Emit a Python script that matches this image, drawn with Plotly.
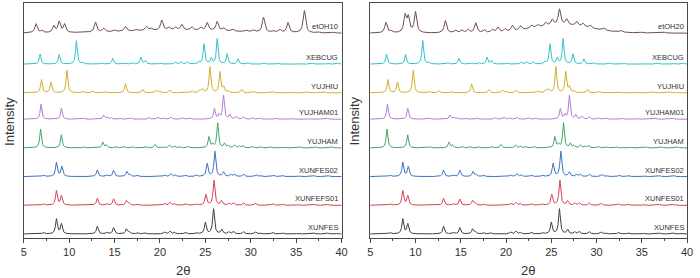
import numpy as np
import plotly.graph_objects as go
from plotly.subplots import make_subplots

# ---- data: peak tables (2theta, relative height) ----
names = ["XUNFES", "XUNFEFS01", "XUNFES02", "YUJHAM", "YUJHAM01", "YUJHIU", "XEBCUG"]
names_right = ["XUNFES", "XUNFES01", "XUNFES02", "YUJHAM", "YUJHAM01", "YUJHIU", "XEBCUG"]
top_left_name = "etOH10"
top_right_name = "etOH20"
offsets = [0, 1, 2, 3, 4, 4.92, 5.92, 7.0]
colors = ["#3f3f3f", "#d9414f", "#3c6fc2", "#3fa46c", "#b27ad6", "#d2ad2e", "#2ec3c6", "#6e4c54"]

xunfes_pos = [7.2, 8.6, 9.15, 13.1, 14.2, 14.9, 16.3, 16.6, 17.5, 18.3, 20.5, 21.1, 21.6, 22.8, 24.0, 25.0, 25.9, 26.8, 27.6, 28.1, 29.2, 30.5, 31.0, 32.4, 33.5, 35.2, 37.0, 38.5, 39.3]
xunfes_h = [0.05, 0.52, 0.35, 0.27, 0.05, 0.22, 0.17, 0.07, 0.05, 0.04, 0.07, 0.1, 0.05, 0.06, 0.05, 0.4, 0.87, 0.15, 0.07, 0.08, 0.08, 0.07, 0.04, 0.06, 0.04, 0.03, 0.03, 0.03, 0.03]
xunfefs01_pos = [7.2, 8.6, 9.15, 13.1, 14.2, 14.9, 16.3, 16.6, 17.5, 20.5, 21.1, 21.6, 22.8, 24.0, 25.05, 25.95, 26.8, 27.6, 28.1, 29.2, 30.5, 32.4, 33.5, 35.2, 37.0, 38.5]
xunfefs01_h = [0.05, 0.5, 0.33, 0.24, 0.05, 0.22, 0.16, 0.07, 0.05, 0.07, 0.1, 0.05, 0.06, 0.05, 0.37, 0.87, 0.15, 0.07, 0.08, 0.08, 0.07, 0.06, 0.04, 0.03, 0.03, 0.03]
xunfes02_pos = [7.2, 8.6, 9.2, 13.1, 14.2, 14.9, 16.35, 16.7, 17.5, 20.5, 21.2, 21.7, 22.8, 24.0, 25.2, 26.05, 27.0, 27.8, 28.2, 29.2, 30.6, 31.1, 32.5, 33.5, 35.3, 37.0, 38.6]
xunfes02_h = [0.05, 0.49, 0.34, 0.23, 0.05, 0.22, 0.17, 0.07, 0.05, 0.06, 0.1, 0.05, 0.05, 0.05, 0.45, 0.88, 0.15, 0.07, 0.08, 0.08, 0.07, 0.04, 0.05, 0.04, 0.03, 0.03, 0.03]
yujham_pos = [6.85, 9.13, 11.6, 13.7, 14.1, 15.2, 16.0, 17.0, 18.4, 19.45, 20.3, 21.05, 21.6, 22.2, 23.1, 25.4, 25.8, 26.35, 27.1, 27.5, 28.2, 28.7, 29.1, 30.2, 31.1, 32.2, 33.8, 35.5, 37.2, 39.0]
yujham_h = [0.66, 0.46, 0.04, 0.2, 0.1, 0.04, 0.05, 0.04, 0.05, 0.12, 0.04, 0.1, 0.06, 0.04, 0.05, 0.38, 0.12, 0.87, 0.15, 0.08, 0.1, 0.06, 0.08, 0.05, 0.04, 0.04, 0.03, 0.03, 0.03, 0.03]
yujham01_pos = [6.9, 9.15, 11.6, 13.8, 14.2, 14.6, 15.6, 16.8, 18.8, 19.75, 20.4, 21.2, 22.5, 23.3, 26.0, 26.5, 27.0, 27.7, 28.4, 29.2, 30.2, 31.0, 32.8, 34.5, 36.5, 38.5]
yujham01_h = [0.52, 0.38, 0.03, 0.14, 0.07, 0.05, 0.04, 0.04, 0.06, 0.08, 0.04, 0.07, 0.05, 0.04, 0.36, 0.15, 0.82, 0.15, 0.1, 0.08, 0.05, 0.04, 0.04, 0.03, 0.03, 0.03]
yujhiu_pos = [6.95, 8.0, 9.75, 11.5, 12.6, 14.0, 16.2, 18.1, 19.6, 20.0, 21.1, 23.5, 24.4, 24.7, 25.5, 26.6, 27.0, 27.5, 29.0, 30.3, 32.4, 34.5, 36.3, 38.2]
yujhiu_h = [0.46, 0.37, 0.79, 0.06, 0.07, 0.04, 0.31, 0.12, 0.1, 0.05, 0.1, 0.07, 0.1, 0.12, 0.9, 0.72, 0.2, 0.06, 0.12, 0.05, 0.04, 0.03, 0.03, 0.03]
xebcug_pos = [6.8, 8.9, 10.8, 11.5, 13.6, 14.8, 16.2, 17.0, 17.9, 18.4, 20.1, 21.7, 22.3, 23.0, 24.3, 24.85, 25.65, 26.3, 27.4, 28.6, 29.7, 31.5, 33.0, 35.3, 36.8, 38.5, 39.6]
xebcug_h = [0.35, 0.33, 0.82, 0.05, 0.05, 0.2, 0.04, 0.05, 0.24, 0.12, 0.04, 0.07, 0.08, 0.08, 0.08, 0.7, 0.2, 0.88, 0.35, 0.18, 0.05, 0.04, 0.03, 0.03, 0.04, 0.03, 0.04]
etoh10_pos = [6.35, 7.0, 8.3, 8.9, 9.5, 12.9, 13.8, 15.0, 16.2, 17.4, 18.5, 19.0, 20.2, 21.0, 21.7, 22.4, 23.5, 24.5, 25.2, 26.3, 27.0, 28.0, 29.5, 30.3, 31.4, 32.5, 33.2, 34.1, 35.9, 37.5, 39.0]
etoh10_h = [0.32, 0.08, 0.23, 0.38, 0.29, 0.35, 0.12, 0.05, 0.17, 0.05, 0.14, 0.08, 0.35, 0.1, 0.1, 0.2, 0.12, 0.1, 0.27, 0.32, 0.1, 0.08, 0.05, 0.06, 0.52, 0.05, 0.1, 0.35, 0.78, 0.03, 0.03]
etoh20_pos = [6.74, 7.3, 8.85, 9.2, 10.0, 13.3, 14.4, 15.1, 15.8, 16.65, 17.6, 18.5, 19.1, 19.9, 20.7, 21.6, 22.8, 23.5, 24.4, 25.1, 25.9, 26.7, 27.8, 28.5, 29.3, 30.8, 32.7, 35.0, 37.5]
etoh20_h = [0.37, 0.06, 0.58, 0.52, 0.72, 0.43, 0.1, 0.1, 0.12, 0.35, 0.1, 0.1, 0.18, 0.1, 0.2, 0.15, 0.12, 0.1, 0.12, 0.2, 0.55, 0.2, 0.15, 0.12, 0.1, 0.08, 0.06, 0.03, 0.03]
# broad amorphous hump of etOH20 / etOH10: centre, height, width
etoh20_hump = [26.2, 0.28, 3.2]
etoh10_hump = [22.0, 0.1, 6.0]
x_ticks = [5, 10, 15, 20, 25, 30, 35, 40]
x_minor = [7.5, 12.5, 17.5, 22.5, 27.5, 32.5, 37.5]

peak_tables = [
    (xunfes_pos, xunfes_h, 0.12),
    (xunfefs01_pos, xunfefs01_h, 0.12),
    (xunfes02_pos, xunfes02_h, 0.12),
    (yujham_pos, yujham_h, 0.11),
    (yujham01_pos, yujham01_h, 0.11),
    (yujhiu_pos, yujhiu_h, 0.11),
    (xebcug_pos, xebcug_h, 0.11),
]

two_theta = np.arange(5.0, 40.0001, 0.02)


def profile(pos, h, w):
    y = np.zeros_like(two_theta)
    for p, a in zip(pos, h):
        y += a / (1.0 + ((two_theta - p) / w) ** 2)
    return y


def hump(c, a, s):
    return a * np.exp(-0.5 * ((two_theta - c) / s) ** 2)


NARROW = "Liberation Sans Narrow, Arial Narrow, Liberation Sans, Arial, sans-serif"
REG = "Liberation Sans, Arial, sans-serif"

fig = make_subplots(rows=1, cols=2, horizontal_spacing=0.04)

for col in (1, 2):
    lab = names if col == 1 else names_right
    for i, (pos, h, w) in enumerate(peak_tables):
        y = profile(pos, h, w) + offsets[i]
        fig.add_trace(go.Scatter(x=two_theta, y=y, mode="lines",
                                 line=dict(color=colors[i], width=1),
                                 showlegend=False, hoverinfo="skip"), row=1, col=col)
    if col == 1:
        ytop = profile(etoh10_pos, etoh10_h, 0.16) + hump(*etoh10_hump) + offsets[7]
        tname = top_left_name
    else:
        ytop = profile(etoh20_pos, etoh20_h, 0.16) + hump(*etoh20_hump) + offsets[7]
        tname = top_right_name
    fig.add_trace(go.Scatter(x=two_theta, y=ytop, mode="lines",
                             line=dict(color=colors[7], width=1),
                             showlegend=False, hoverinfo="skip"), row=1, col=col)
    xref = "x" if col == 1 else "x2"
    yref = "y" if col == 1 else "y2"
    for i, nm in enumerate(lab + [tname]):
        fig.add_annotation(x=39.85, y=offsets[i] + 0.23, xref=xref, yref=yref,
                           text=nm, showarrow=False, xanchor="right", yanchor="middle",
                           font=dict(family=NARROW, size=7.5, color="#333333"))

ydom = [40 / 278, 275 / 278]
axis_common = dict(showline=True, linecolor="#4a4a4a", linewidth=1, mirror=True,
                   showgrid=False, zeroline=False)
fig.update_xaxes(range=[5, 40], tickmode="array", tickvals=x_ticks,
                 ticks="outside", ticklen=4, tickcolor="#4a4a4a",
                 tickfont=dict(family=NARROW, size=11, color="#333333"),
                 minor=dict(tickvals=x_minor, ticks="outside",
                            ticklen=2, tickcolor="#4a4a4a"),
                 **axis_common)
fig.update_yaxes(range=[-0.14, 8.05], showticklabels=False, ticks="", **axis_common)
fig.update_layout(
    width=700, height=278, margin=dict(l=0, r=0, t=0, b=0),
    plot_bgcolor="white", paper_bgcolor="white",
    xaxis=dict(domain=[21 / 700, 343 / 700]),
    xaxis2=dict(domain=[372 / 700, 693 / 700]),
    yaxis=dict(domain=ydom), yaxis2=dict(domain=ydom),
)
for xc in (7, 357):
    fig.add_annotation(x=xc / 700, y=1 - 121 / 278, xref="paper", yref="paper",
                       xanchor="center", yanchor="middle",
                       text="Intensity", textangle=-90, showarrow=False,
                       font=dict(family=REG, size=13, color="#333333"))
for xc in (182, 532):
    fig.add_annotation(x=xc / 700, y=1 - 270 / 278, xref="paper", yref="paper",
                       xanchor="center", yanchor="middle",
                       text="2θ", showarrow=False,
                       font=dict(family=NARROW, size=13, color="#333333"))

fig.write_html("out.html")
